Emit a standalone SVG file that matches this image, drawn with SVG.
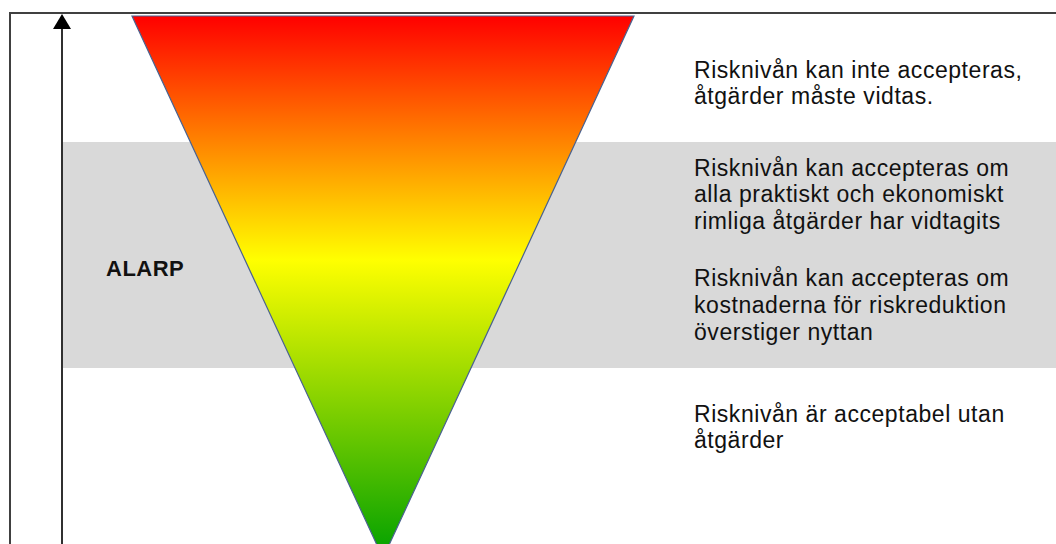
<svg xmlns="http://www.w3.org/2000/svg" width="1056" height="544" viewBox="0 0 1056 544">
  <style>
    .txt { font-family: "Liberation Sans", Arial, sans-serif; font-size: 23px; letter-spacing: 0.55px; fill: #111; }
    .bold { font-family: "Liberation Sans", Arial, sans-serif; font-size: 22px; font-weight: bold; letter-spacing: 0.5px; fill: #111; }
    .frame { stroke: #404040; stroke-width: 2; fill: none; }
  </style>
  <defs>
    <linearGradient id="riskGrad" gradientUnits="userSpaceOnUse" x1="0" y1="16" x2="0" y2="558">
      <stop offset="0" stop-color="#ff0000"/>
      <stop offset="0.45" stop-color="#ffff00"/>
      <stop offset="1" stop-color="#00a000"/>
    </linearGradient>
  </defs>
  <rect width="1056" height="544" fill="#ffffff"/>
  <g id="band">
    <rect x="63" y="142" width="993" height="226" fill="#d9d9d9"/>
  </g>
  <g id="frame">
    <path class="frame" d="M10,544 L10,13 L1056,13"/>
  </g>
  <g id="connectors">
    <line x1="62" y1="544" x2="62" y2="29" stroke="#303030" stroke-width="2"/>
    <path d="M53,29 L62,14 L71,29 Z" fill="#000"/>
  </g>
  <g id="triangle">
    <polygon points="132,16 634,16 383,558" fill="url(#riskGrad)" stroke="#4a6290" stroke-width="1.2"/>
  </g>
  <g id="alarp">
    <text class="bold" x="106" y="276">ALARP</text>
  </g>
  <g id="level-unacceptable">
    <text class="txt" x="694" y="78">Risknivån kan inte accepteras,</text>
    <text class="txt" x="694" y="104">åtgärder måste vidtas.</text>
  </g>
  <g id="level-alarp-1">
    <text class="txt" x="694" y="176">Risknivån kan accepteras om</text>
    <text class="txt" x="694" y="202">alla praktiskt och ekonomiskt</text>
    <text class="txt" x="694" y="229">rimliga åtgärder har vidtagits</text>
  </g>
  <g id="level-alarp-2">
    <text class="txt" x="694" y="286">Risknivån kan accepteras om</text>
    <text class="txt" x="694" y="313">kostnaderna för riskreduktion</text>
    <text class="txt" x="694" y="340">överstiger nyttan</text>
  </g>
  <g id="level-acceptable">
    <text class="txt" x="694" y="422">Risknivån är acceptabel utan</text>
    <text class="txt" x="694" y="448">åtgärder</text>
  </g>
</svg>
